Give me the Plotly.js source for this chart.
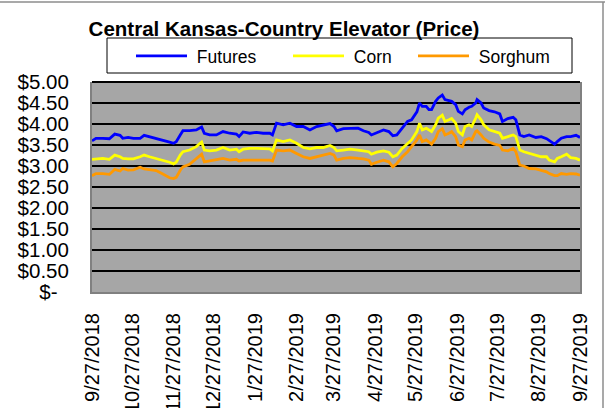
<!DOCTYPE html>
<html>
<head>
<meta charset="utf-8">
<script src="https://cdn.plot.ly/plotly-3.0.1.min.js"></script>
<style>html,body{margin:0;padding:0;background:#fff;}#chart{width:605px;height:408px;}</style>
</head>
<body>
<div id="chart"></div>
<script>
const dates = [
'2018-09-27','2018-09-30','2018-10-05','2018-10-10','2018-10-14','2018-10-18','2018-10-20','2018-10-24','2018-10-28','2018-11-02','2018-11-05','2018-11-09','2018-11-14','2018-11-19','2018-11-24','2018-11-27','2018-11-29','2018-12-02','2018-12-04','2018-12-09','2018-12-14','2018-12-18','2018-12-20','2018-12-24','2018-12-29','2019-01-03','2019-01-08','2019-01-13','2019-01-15','2019-01-18','2019-01-23','2019-01-28',
'2019-02-02','2019-02-07','2019-02-09','2019-02-12','2019-02-17','2019-02-22','2019-02-27','2019-03-04','2019-03-09','2019-03-14','2019-03-19','2019-03-24','2019-03-27','2019-03-29','2019-04-03','2019-04-08','2019-04-14','2019-04-18','2019-04-22','2019-04-24','2019-04-28','2019-05-03','2019-05-07','2019-05-10','2019-05-13','2019-05-17','2019-05-21','2019-05-24','2019-05-28','2019-05-30',
'2019-06-01','2019-06-04','2019-06-06','2019-06-08','2019-06-11','2019-06-13','2019-06-16','2019-06-18','2019-06-21','2019-06-23','2019-06-26','2019-06-28','2019-07-01','2019-07-03','2019-07-06','2019-07-08','2019-07-11','2019-07-12','2019-07-15','2019-07-17','2019-07-21','2019-07-25','2019-07-29','2019-07-31','2019-08-04','2019-08-08','2019-08-10','2019-08-13','2019-08-16','2019-08-20','2019-08-25','2019-08-29','2019-09-02','2019-09-04','2019-09-08','2019-09-10','2019-09-13','2019-09-17','2019-09-20','2019-09-24','2019-09-27'];

const futures = [
3.60,3.66,3.66,3.65,3.76,3.73,3.66,3.68,3.66,3.66,3.73,3.70,3.66,3.62,3.57,3.54,3.58,3.74,3.84,3.84,3.86,3.93,3.78,3.74,3.74,3.82,3.78,3.76,3.70,3.81,3.78,3.80,
3.78,3.78,3.74,4.02,3.98,4.02,3.94,3.94,3.86,3.94,3.97,4.01,3.94,3.84,3.89,3.89,3.90,3.84,3.80,3.74,3.80,3.86,3.82,3.72,3.74,3.90,4.06,4.10,4.29,4.50,
4.42,4.42,4.34,4.34,4.54,4.62,4.69,4.58,4.56,4.54,4.46,4.30,4.24,4.34,4.40,4.42,4.50,4.58,4.50,4.38,4.32,4.29,4.24,4.06,4.13,4.16,4.10,3.74,3.70,3.74,3.68,3.70,3.65,3.60,3.52,3.58,3.66,3.70,3.70,3.73,3.68];

const corn = [
3.16,3.17,3.18,3.16,3.26,3.22,3.18,3.17,3.17,3.22,3.26,3.22,3.18,3.14,3.09,3.05,3.09,3.26,3.34,3.38,3.46,3.57,3.38,3.36,3.38,3.44,3.38,3.40,3.34,3.40,3.42,3.42,
3.41,3.41,3.36,3.62,3.58,3.62,3.54,3.44,3.41,3.44,3.44,3.49,3.44,3.36,3.38,3.40,3.38,3.36,3.34,3.28,3.33,3.36,3.33,3.22,3.26,3.42,3.54,3.62,3.82,4.02,
3.86,3.90,3.86,3.82,3.98,4.14,4.21,4.06,4.10,4.13,4.02,3.82,3.74,3.94,3.98,3.94,4.14,4.22,4.10,3.98,3.86,3.82,3.78,3.66,3.70,3.74,3.70,3.38,3.34,3.30,3.26,3.22,3.22,3.14,3.10,3.18,3.22,3.28,3.20,3.18,3.14];

const sorghum = [
2.77,2.82,2.82,2.80,2.92,2.88,2.94,2.90,2.91,2.97,2.93,2.92,2.89,2.81,2.72,2.70,2.73,2.90,2.98,3.04,3.17,3.28,3.10,3.12,3.14,3.18,3.14,3.16,3.12,3.14,3.14,3.14,
3.14,3.14,3.12,3.38,3.36,3.38,3.30,3.22,3.18,3.22,3.26,3.30,3.26,3.14,3.18,3.20,3.18,3.17,3.14,3.04,3.09,3.14,3.10,2.98,3.06,3.22,3.34,3.46,3.62,3.74,
3.58,3.62,3.58,3.52,3.66,3.82,3.89,3.74,3.78,3.82,3.70,3.50,3.46,3.62,3.66,3.62,3.82,3.84,3.74,3.66,3.57,3.52,3.49,3.38,3.36,3.42,3.34,3.02,3.00,2.94,2.93,2.90,2.86,2.82,2.77,2.77,2.82,2.80,2.82,2.81,2.78];

const seriesNames = ['Futures','Corn','Sorghum'];
const seriesColors = ['#0000FF','#FFFF00','#FF9900'];

const xTickDates = ['2018-09-27','2018-10-27','2018-11-27','2018-12-27','2019-01-27','2019-02-27','2019-03-27','2019-04-27','2019-05-27','2019-06-27','2019-07-27','2019-08-27','2019-09-27'];
const xTickLabels = ['9/27/2018','10/27/2018','11/27/2018','12/27/2018','1/27/2019','2/27/2019','3/27/2019','4/27/2019','5/27/2019','6/27/2019','7/27/2019','8/27/2019','9/27/2019'];
const yTickValues = [0,0.5,1,1.5,2,2.5,3,3.5,4,4.5,5];
const yTickLabels = ['$-\u00a0\u00a0','$0.50','$1.00','$1.50','$2.00','$2.50','$3.00','$3.50','$4.00','$4.50','$5.00'];

const FONT = 'Liberation Sans, Arial, sans-serif';
const values = [futures, corn, sorghum];
const legendIds = ['legend', 'legend2', 'legend3'];
const traces = seriesNames.map((n, i) => ({
  type: 'scatter', mode: 'lines', name: '\u00a0' + n,
  legend: legendIds[i],
  x: dates, y: values[i],
  line: {color: seriesColors[i], width: 2.8}
}));

const L = 92, R = 580, T = 82, B = 292, W = 605, H = 408;
const px = v => (v - L) / (R - L);
const py = v => (B - v) / (B - T);

const legendStyle = left => ({
  orientation: 'h', x: px(left), xanchor: 'left', y: py(56), yanchor: 'middle',
  bgcolor: 'rgba(0,0,0,0)', borderwidth: 0,
  font: {family: FONT, size: 17.5, color: '#000'},
  itemwidth: 51
});

const layout = {
  width: W, height: H,
  margin: {l: L, r: W - R, t: T, b: H - B, pad: 0},
  paper_bgcolor: '#ffffff',
  plot_bgcolor: '#A6A6A6',
  font: {family: FONT, color: '#000', size: 20},
  title: {
    text: '<b>Central Kansas-Country Elevator (Price)</b>',
    font: {family: FONT, size: 20.5, color: '#000'},
    xref: 'paper', x: px(284), xanchor: 'center',
    yref: 'container', y: 1 - 29 / H, yanchor: 'middle'
  },
  showlegend: true,
  legend: legendStyle(131),
  legend2: legendStyle(288),
  legend3: legendStyle(413),
  xaxis: {
    type: 'date', range: ['2018-09-27', '2019-09-27'],
    tickmode: 'array', tickvals: xTickDates, ticktext: xTickLabels,
    tickangle: -90, ticks: '', ticklabelstandoff: 11,
    showgrid: false, zeroline: false,
    showline: true, linecolor: '#808080', linewidth: 2,
    tickfont: {family: FONT, size: 20, color: '#000'}
  },
  yaxis: {
    range: [0, 5], tickmode: 'array', tickvals: yTickValues, ticktext: yTickLabels,
    ticks: '', ticklabelstandoff: 17,
    showgrid: true, gridcolor: '#000000', gridwidth: 2,
    zeroline: false,
    showline: true, linecolor: '#808080', linewidth: 2, mirror: true,
    tickfont: {family: FONT, size: 20.5, color: '#000'}
  },
  shapes: [
    {type: 'rect', xref: 'paper', yref: 'paper', x0: px(107), x1: px(572), y0: py(73), y1: py(38),
     line: {color: '#000', width: 1}, fillcolor: '#fff', layer: 'below'},
    {type: 'line', xref: 'paper', yref: 'paper', x0: 0, x1: 1, y0: 1, y1: 1,
     line: {color: '#000', width: 2}, layer: 'above'},
    {type: 'line', xref: 'paper', yref: 'paper', x0: px(0), x1: px(605), y0: py(2), y1: py(2),
     line: {color: '#8c8c8c', width: 1.5}, layer: 'below'},
    {type: 'line', xref: 'paper', yref: 'paper', x0: px(603), x1: px(603), y0: py(2), y1: py(408),
     line: {color: '#8c8c8c', width: 1.5}, layer: 'below'}
  ]
};

Plotly.newPlot('chart', traces, layout, {displayModeBar: false, staticPlot: true});
</script>
</body>
</html>
